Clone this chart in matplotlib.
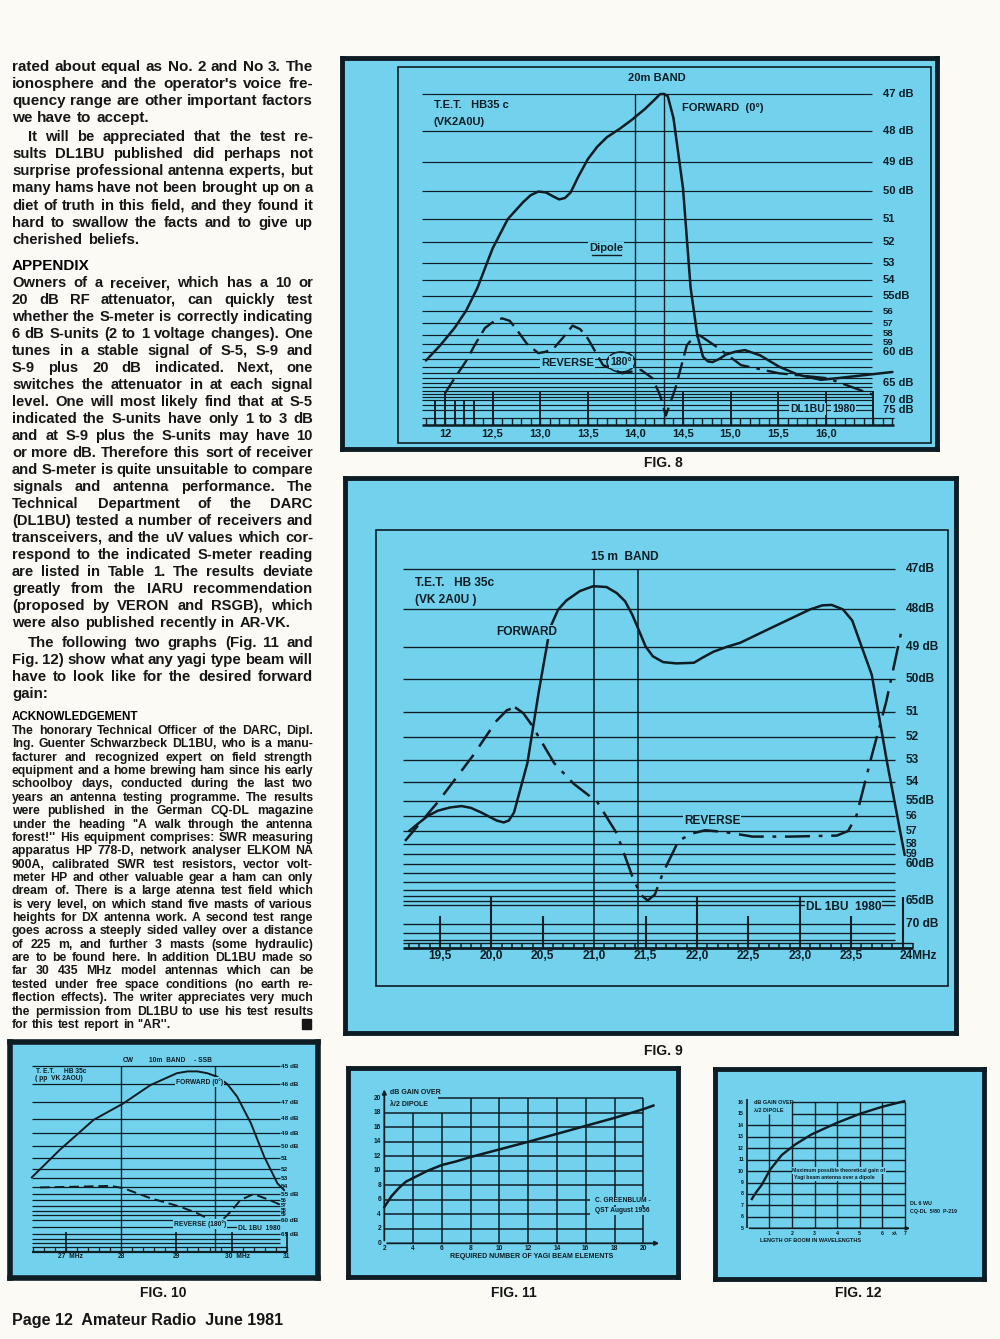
import numpy as np
import matplotlib
matplotlib.use('Agg')
import matplotlib.pyplot as plt
import matplotlib.transforms as mtrans
from matplotlib import font_manager
from matplotlib.patches import Rectangle, Ellipse
from matplotlib.lines import Line2D

W, H = 1000, 1339
PAPER = '#fbfaf5'
CYAN = '#72d2ed'
INK = '#0e1c24'
TXT = '#161616'

_fonts = {f.name for f in font_manager.fontManager.ttflist}
BODY = 'Liberation Sans' if 'Liberation Sans' in _fonts else 'DejaVu Sans'
NARROW = 'Liberation Sans Narrow' if 'Liberation Sans Narrow' in _fonts else BODY
CW_ = 'bold'   # weight of the lettering inside the charts

# ---------------- data : Fig. 8 (20 m band) ----------------
F8_FWD_MHZ = [11.80, 11.95, 12.10, 12.22, 12.34, 12.50, 12.66, 12.82, 12.90, 12.98, 13.06,
              13.14, 13.20, 13.26, 13.32, 13.40, 13.50, 13.60, 13.70, 13.83, 13.96, 14.10,
              14.20, 14.26, 14.30, 14.34, 14.40, 14.50, 14.58, 14.65, 14.71, 14.76, 14.81,
              14.88, 14.95, 15.05, 15.15, 15.31, 15.51, 15.71, 15.95, 16.11, 16.70]
F8_FWD_DB = [61.2, 59.2, 57.4, 56.0, 54.5, 52.3, 51.0, 50.4, 50.15, 50.02, 50.05,
             50.2, 50.3, 50.25, 50.05, 49.5, 48.9, 48.5, 48.2, 47.95, 47.7, 47.4,
             47.15, 46.95, 46.93, 47.05, 47.65, 49.9, 54.5, 58.0, 60.7, 61.3, 61.4,
             61.0, 60.4, 60.0, 59.8, 60.5, 62.0, 63.3, 64.3, 64.0, 62.8]
F8_REV_MHZ = [12.00, 12.10, 12.22, 12.32, 12.42, 12.52, 12.60, 12.68, 12.74, 12.86, 12.98,
              13.06, 13.14, 13.24, 13.34, 13.42, 13.50, 13.66, 13.86, 14.06, 14.18, 14.26,
              14.32, 14.42, 14.54, 14.60, 14.67, 14.83, 15.11, 15.51, 16.02, 16.50]
F8_REV_DB = [67.8, 64.0, 61.3, 59.0, 57.4, 56.8, 56.6, 56.8, 57.4, 59.0, 60.2,
             60.0, 59.6, 58.3, 57.2, 57.5, 58.4, 61.8, 63.0, 62.5, 64.0, 68.5,
             77.0, 66.4, 59.2, 58.4, 58.0, 59.2, 61.8, 63.0, 64.0, 68.3]
F8_GRID = [47, 48, 49, 50, 51, 52, 53, 54, 55, 56, 57, 58, 59, 60, 61, 62, 63, 64, 65,
           66, 67, 68, 69, 70, 72, 75]
F8_DB_AT = [47, 48, 49, 50, 51, 52, 53, 54, 55, 56, 57, 57.85, 58.9, 60, 65, 70, 75]
F8_DB_LABELS = ['47 dB', '48 dB', '49 dB', '50 dB', '51', '52', '53', '54', '55dB', '56',
                '57', '58', '59', '60 dB', '65 dB', '70 dB', '75 dB']
F8_XTICKS = [12.0, 12.5, 13.0, 13.5, 14.0, 14.5, 15.0, 15.5, 16.0]
F8_XLABELS = ['12', '12,5', '13,0', '13,5', '14,0', '14,5', '15,0', '15,5', '16,0']
F8_MAJOR = [12.0, 12.5, 13.0, 13.5, 14.5, 15.0, 15.5, 16.0, 16.5]
F8_MINOR = [11.9, 12.1, 12.2, 12.3]
F8_BAND = [14.0, 14.3]

# ---------------- data : Fig. 9 (15 m band) ----------------
F9_FWD_MHZ = [19.20, 19.27, 19.38, 19.48, 19.60, 19.71, 19.80, 19.90, 20.05, 20.12, 20.17,
              20.22, 20.35, 20.46, 20.57, 20.65, 20.73, 20.86, 20.99, 21.12, 21.22, 21.30,
              21.37, 21.44, 21.50, 21.57, 21.67, 21.80, 21.97, 22.05, 22.16, 22.30, 22.42,
              22.72, 23.10, 23.22, 23.31, 23.42, 23.51, 23.70, 23.85, 24.02]
F9_FWD_DB = [57.0, 56.6, 56.0, 55.64, 55.42, 55.33, 55.45, 55.76, 56.3, 56.43, 56.3,
             55.76, 53.13, 50.4, 48.5, 48.0, 47.78, 47.55, 47.43, 47.45, 47.6, 47.8,
             48.14, 48.6, 49.0, 49.3, 49.48, 49.52, 49.5, 49.35, 49.16, 49.0, 48.9,
             48.5, 48.0, 47.9, 47.89, 48.0, 48.3, 49.87, 53.13, 59.07]
F9_REV_MHZ = [19.16, 19.48, 19.82, 20.05, 20.15, 20.23, 20.31, 20.39, 20.61, 20.80, 21.03,
              21.22, 21.37, 21.45, 21.52, 21.59, 21.67, 21.82, 21.95, 22.08, 22.27, 22.54,
              22.91, 23.36, 23.47, 23.55, 23.70, 23.84, 23.99]
F9_REV_DB = [57.78, 55.05, 52.8, 51.35, 50.95, 50.86, 51.05, 51.5, 53.13, 54.1, 55.05,
             57.2, 61.4, 63.8, 64.9, 63.8, 61.0, 57.78, 57.2, 56.95, 57.08, 57.44,
             57.44, 57.36, 57.0, 56.0, 52.8, 50.7, 48.57]
F9_GRID = [47, 48, 49, 50, 51, 52, 53, 54, 55, 56, 57, 58, 59, 60, 61, 62, 63, 64, 65, 66,
           70, 72, 74]
F9_DB_AT = [47, 48, 49, 50, 51, 52, 53, 54, 55, 56, 57, 58, 59, 60, 65, 70]
F9_DB_LABELS = ['47dB', '48dB', '49 dB', '50dB', '51', '52', '53', '54', '55dB', '56', '57',
                '58', '59', '60dB', '65dB', '70 dB']
F9_XTICKS = [19.5, 20.0, 20.5, 21.0, 21.5, 22.0, 22.5, 23.0, 23.5]
F9_XLABELS = ['19,5', '20,0', '20,5', '21,0', '21,5', '22,0', '22,5', '23,0', '23,5']
F9_WHOLE = [20.0, 22.0, 23.0, 24.0]
F9_HALF = [19.5, 20.5, 21.5, 22.5, 23.5]
F9_BAND = [21.0, 21.43]

# ---------------- data : Fig. 10 (10 m band) ----------------
F10_FWD_MHZ = [26.38, 26.89, 27.50, 28.04, 28.53, 29.01, 29.20, 29.38, 29.56, 29.74, 29.92,
               30.10, 30.35, 30.59, 30.83, 30.95]
F10_FWD_DB = [52.9, 50.3, 48.06, 47.08, 46.06, 45.4, 45.3, 45.3, 45.4, 45.6, 46.0,
              46.7, 48.3, 50.86, 53.6, 54.45]
F10_REV_MHZ = [26.53, 27.19, 27.80, 28.04, 28.53, 29.07, 29.38, 29.62, 29.74, 29.86, 30.00,
               30.16, 30.40, 30.71, 30.92]
F10_REV_DB = [54.1, 54.0, 53.9, 54.2, 55.7, 57.2, 58.6, 60.0, 60.1, 59.7, 58.0,
              56.0, 55.0, 56.1, 57.0]
F10_GRID = [45, 46, 47, 48, 49, 50, 51, 52, 53, 54, 55, 56, 57, 58, 59, 60, 62, 65, 67, 69]
F10_DB_AT = [45, 46, 47, 48, 49, 50, 51, 52, 53, 54, 55, 56, 57, 58, 59, 60, 65]
F10_DB_LABELS = ['45 dB', '46 dB', '47 dB', '48 dB', '49 dB', '50 dB', '51', '52', '53', '54',
                 '55 dB', '56', '57', '58', '59', '60 dB', '65 dB']
F10_XTICKS = [27.08, 28.0, 29.0, 30.1, 31.0]
F10_XLABELS = ['27  MHz', '28', '29', '30  MHz', '31']
F10_TALL = [27.0, 29.0, 30.0, 31.0]
F10_BAND = [28.0, 29.7]

# ---------------- data : Fig. 11 and Fig. 12 ----------------
F11_ELEMENTS = [2, 2.5, 3, 3.5, 4, 5, 6, 7, 8, 10, 12, 14, 16, 18, 20, 20.7]
F11_GAIN = [5.0, 6.5, 7.6, 8.5, 9.0, 10.0, 10.8, 11.3, 11.9, 12.95, 14.0, 15.1, 16.2, 17.3,
            18.5, 19.0]
F11_TICKS = [0, 2, 4, 6, 8, 10, 12, 14, 16, 18, 20]
F12_BOOM = [0.2, 0.4, 0.66, 1.03, 1.55, 2.13, 2.87, 3.98, 5.01, 5.97, 6.97]
F12_GAIN = [7.47, 8.1, 8.78, 10.1, 11.4, 12.3, 13.2, 14.2, 15.0, 15.6, 16.1]
F12_YTICKS = [5, 6, 7, 8, 9, 10, 11, 12, 13, 14, 15, 16]
F12_XTICKS = [1, 2, 3, 4, 5, 6, 7]

# ---------------- text column ----------------
PARA_1 = ["rated about equal as No. 2 and No 3. The",
          "ionosphere and the operator's voice fre-",
          "quency range are other important factors",
          "we have to accept."]
PARA_2 = ["It will be appreciated that the test re-",
          "sults DL1BU published did perhaps not",
          "surprise professional antenna experts, but",
          "many hams have not been brought up on a",
          "diet of truth in this field, and they found it",
          "hard to swallow the facts and to give up",
          "cherished beliefs."]
PARA_3 = ["Owners of a receiver, which has a 10 or",
          "20 dB RF attenuator, can quickly test",
          "whether the S-meter is correctly indicating",
          "6 dB S-units (2 to 1 voltage changes). One",
          "tunes in a stable signal of S-5, S-9 and",
          "S-9 plus 20 dB indicated. Next, one",
          "switches the attenuator in at each signal",
          "level. One will most likely find that at S-5",
          "indicated the S-units have only 1 to 3 dB",
          "and at S-9 plus the S-units may have 10",
          "or more dB. Therefore this sort of receiver",
          "and S-meter is quite unsuitable to compare",
          "signals and antenna performance. The",
          "Technical Department of the DARC",
          "(DL1BU) tested a number of receivers and",
          "transceivers, and the uV values which cor-",
          "respond to the indicated S-meter reading",
          "are listed in Table 1. The results deviate",
          "greatly from the IARU recommendation",
          "(proposed by VERON and RSGB), which",
          "were also published recently in AR-VK."]
PARA_4 = ["The following two graphs (Fig. 11 and",
          "Fig. 12) show what any yagi type beam will",
          "have to look like for the desired forward",
          "gain:"]
ACK = ["The honorary Technical Officer of the DARC, Dipl.",
       "Ing. Guenter Schwarzbeck DL1BU, who is a manu-",
       "facturer and recognized expert on field strength",
       "equipment and a home brewing ham since his early",
       "schoolboy days, conducted during the last two",
       "years an antenna testing programme. The results",
       "were published in the German CQ-DL magazine",
       "under the heading ''A walk through the antenna",
       "forest!'' His equipment comprises: SWR measuring",
       "apparatus HP 778-D, network analyser ELKOM NA",
       "900A, calibrated SWR test resistors, vector volt-",
       "meter HP and other valuable gear a ham can only",
       "dream of. There is a large atenna test field which",
       "is very level, on which stand five masts of various",
       "heights for DX antenna work. A second test range",
       "goes across a steeply sided valley over a distance",
       "of 225 m, and further 3 masts (some hydraulic)",
       "are to be found here. In addition DL1BU made so",
       "far 30 435 MHz model antennas which can be",
       "tested under free space conditions (no earth re-",
       "flection effects). The writer appreciates very much",
       "the permission from DL1BU to use his test results",
       "for this test report in ''AR''."]

# ---------------- figure ----------------
fig = plt.figure(figsize=(W / 100, H / 100), dpi=100, facecolor=PAPER)
renderer = fig.canvas.get_renderer()
X0, X1 = 12, 313


def body_block(lines, y_first, pitch, size, weight='bold', indent=0, sp_em=0.24):
    meas = []
    for line in lines:
        ws = line.split()
        wd = []
        for w in ws:
            t = fig.text(0, 0, w, fontsize=size, family=BODY, fontweight=weight)
            wd.append(t.get_window_extent(renderer).width)
            t.remove()
        meas.append((ws, wd))
    sp = sp_em * size * 100 / 72
    need = 1.0
    for i, (ws, wd) in enumerate(meas):
        left = indent if i == 0 else 0
        need = max(need, (sum(wd) + sp * (len(ws) - 1)) / (X1 - X0 - left))
    k = 1.0 / need
    for i, (ws, wd) in enumerate(meas):
        wd = [v * k for v in wd]
        left = X0 + (indent if i == 0 else 0)
        if i == len(meas) - 1 or len(ws) == 1:
            gap = sp * k * 1.3
        else:
            gap = (X1 - left - sum(wd)) / (len(ws) - 1)
        x = left
        y = y_first + i * pitch
        for w, v in zip(ws, wd):
            fig.text(x / W, 1 - y / H, w, fontsize=size * k, family=BODY,
                     fontweight=weight, color=TXT, va='baseline')
            x += v + gap


body_block(PARA_1, 71, 17.0, 11.0)
body_block(PARA_2, 141, 17.15, 11.0, indent=16)
fig.text(X0 / W, 1 - 270 / H, 'APPENDIX', fontsize=11, family=BODY, fontweight='heavy',
         color='#000000', va='baseline')
body_block(PARA_3, 287, 17.0, 11.0)
body_block(PARA_4, 647, 17.0, 11.0, indent=16)
fig.text(X0 / W, 1 - 720 / H, 'ACKNOWLEDGEMENT', fontsize=8.4, family=BODY, fontweight='heavy',
         color='#000000', va='baseline')
body_block(ACK, 734, 13.36, 8.8)
fig.add_artist(Rectangle((302 / W, 1 - 1029 / H), 9 / W, 10 / H, transform=fig.transFigure,
                         color=TXT))

fig.text(X0 / W, 1 - 1320 / H, 'Page 12  Amateur Radio  June 1981', fontsize=11.6,
         family=BODY, fontweight='bold', color=TXT, va='center')
caps = [((663, 463), 'FIG. 8'), ((663, 1051), 'FIG. 9'), ((163, 1293), 'FIG. 10'),
        ((514, 1293), 'FIG. 11'), ((858, 1293), 'FIG. 12')]
for (cx, cy), cap in caps:
    fig.text(cx / W, 1 - cy / H, cap, fontsize=10, family=BODY, fontweight='bold',
             color=TXT, ha='center', va='center')


# ---------------- chart helpers ----------------
def panel(x0, y0, x1, y1, lw=3.5):
    ax = fig.add_axes([x0 / W, 1 - y1 / H, (x1 - x0) / W, (y1 - y0) / H])
    ax.set_facecolor(CYAN)
    for s in ax.spines.values():
        s.set_linewidth(lw)
        s.set_color(INK)
    ax._px = (x0, y0, x1, y1)
    return ax


def xmap(ax, ref, ref_px, ppu):
    x0, _, x1, _ = ax._px
    ax.set_xlim(ref + (x0 - ref_px) / ppu, ref + (x1 - ref_px) / ppu)


def ymap(ax, ref, ref_px, ppu):
    _, y0, _, y1 = ax._px
    ax.set_ylim(ref - (y1 - ref_px) / ppu, ref + (ref_px - y0) / ppu)


def level_scale(ax, db_pts, px_pts):
    db_pts = np.asarray(db_pts, float)
    px_pts = np.asarray(px_pts, float)
    ax.set_yscale('function', functions=(lambda d: np.interp(d, db_pts, px_pts),
                                         lambda p: np.interp(p, px_pts, db_pts)))
    ax.set_ylim(db_pts[-1], db_pts[0])


def clean(ax):
    ax.set_xticks([])
    ax.set_yticks([])
    ax.minorticks_off()


def xd_yp(ax):
    return mtrans.blended_transform_factory(ax.transData, fig.transFigure)


def xp_yd(ax):
    return mtrans.blended_transform_factory(fig.transFigure, ax.transData)


def ptext(x, y, s, size, **kw):
    kw.setdefault('family', NARROW)
    kw.setdefault('color', INK)
    kw.setdefault('va', 'center')
    kw.setdefault('fontweight', CW_)
    return fig.text(x / W, 1 - y / H, s, fontsize=size, **kw)


def frame(x0, y0, x1, y1, lw=1.2):
    fig.add_artist(Rectangle((x0 / W, 1 - y1 / H), (x1 - x0) / W, (y1 - y0) / H,
                             transform=fig.transFigure, fill=False, ec=INK, lw=lw))


MASK = dict(facecolor=CYAN, edgecolor='none', pad=0.6)
CURVE = dict(color=INK, lw=1.8, solid_joinstyle='round', solid_capstyle='round')
LAB = dict(family=NARROW, color=INK, fontweight=CW_)

# ---------------- Fig. 8 ----------------
ax8 = panel(342, 58, 937, 449)
xmap(ax8, 12.0, 445, 95.2)
level_scale(ax8,
            [40, 47, 48, 49, 50, 51, 52, 53, 54, 55, 56, 57, 58, 59, 60, 61, 62, 63, 64, 65, 66,
             67, 68, 69, 70, 72, 75, 78, 80, 90],
            [58, 94.3, 131, 162.3, 191, 219, 242.3, 262.7, 280.3, 295.7, 311, 323.3, 335,
             343.7, 351.7, 359, 366.7, 373.3, 378.3, 383.3, 387, 390.5, 394, 397, 400, 404.5,
             410, 418.3, 425, 449])
clean(ax8)
frame(398, 67, 931, 443)
ax8.hlines(F8_GRID, 11.76, 16.49, color=INK, lw=0.85)
ax8.vlines(F8_BAND, 47, 80, color=INK, lw=1.0)
ax8.hlines(78, 11.76, 16.72, color=INK, lw=0.9)
ax8.hlines(80, 11.76, 16.72, color=INK, lw=1.8)
ax8.vlines(np.arange(11.8, 16.75, 0.1), 78, 80, color=INK, lw=1.0)
ax8.vlines(F8_MAJOR, 67, 80, color=INK, lw=1.4)
ax8.vlines(F8_MINOR, 70.5, 80, color=INK, lw=1.4)
ax8.plot(F8_FWD_MHZ, F8_FWD_DB, **CURVE)
m8 = np.array(F8_REV_MHZ)
d8 = np.array(F8_REV_DB)
sel = m8 <= 14.67
ax8.plot(m8[sel], d8[sel], color=INK, lw=1.7, dashes=(7, 3))
sel = m8 >= 14.67
ax8.plot(m8[sel], d8[sel], color=INK, lw=1.7, dashes=(9, 3, 1.5, 3))
for db, lab in zip(F8_DB_AT, F8_DB_LABELS):
    ax8.text(883 / W, db, lab, transform=xp_yd(ax8), ha='left', va='center',
             fontsize=6.8 if 56 <= db < 60 else 8, **LAB)
for v, lab in zip(F8_XTICKS, F8_XLABELS):
    ax8.text(v, 1 - 434 / H, lab, transform=xd_yp(ax8), ha='center', va='center',
             fontsize=8, **LAB)
ptext(657, 78, '20m BAND', 8, ha='center')
ptext(434, 105, 'T.E.T.   HB35 c', 8)
ptext(434, 122, '(VK2A0U)', 8)
ptext(682, 108, 'FORWARD  (0°)', 8)
ptext(606, 248, 'Dipole', 8, ha='center', bbox=MASK)
fig.add_artist(Line2D([592 / W, 621 / W], [1 - 255 / H, 1 - 255 / H], color=INK, lw=1.0))
ptext(594, 363, 'REVERSE', 8, ha='right', bbox=MASK)
ptext(621, 362, '180°', 7.5, ha='center', bbox=MASK)
fig.add_artist(Ellipse((621 / W, 1 - 362 / H), 28 / W, 20 / H, transform=fig.transFigure,
                       fill=False, ec=INK, lw=1.1))
ptext(790, 409, 'DL1BU', 7.5, bbox=MASK)
ptext(832, 409, '1980', 7.5, bbox=MASK)

# ---------------- Fig. 9 ----------------
ax9 = panel(345, 478, 956, 1033)
xmap(ax9, 19.5, 440, 102.8)
level_scale(ax9,
            [40, 47, 48, 49, 50, 51, 52, 53, 54, 55, 56, 57, 58, 59, 60, 61, 62, 63, 64, 65, 66,
             70, 72, 74, 76, 78, 90],
            [478, 568.7, 609.4, 646.5, 679, 711.9, 737.3, 760.3, 781.8, 801.2, 816, 831,
             843.7, 854.3, 863.8, 872.6, 881.5, 890.3, 895.6, 901, 905, 923.8, 932.7, 939.8,
             943.3, 948, 1033])
clean(ax9)
frame(376, 530, 948, 986)
ax9.hlines(F9_GRID, 19.14, 23.93, color=INK, lw=0.95)
ax9.vlines(F9_BAND, 47, 78, color=INK, lw=1.1)
ax9.hlines(76, 19.14, 24.1, color=INK, lw=1.0)
ax9.hlines(78, 19.14, 24.1, color=INK, lw=2.0)
ax9.vlines(np.arange(19.2, 24.1, 0.1), 76, 78, color=INK, lw=1.1)
ax9.vlines(F9_WHOLE, 64.3, 78, color=INK, lw=1.5)
ax9.vlines(F9_HALF, 68.3, 78, color=INK, lw=1.5)
ax9.plot(F9_FWD_MHZ, F9_FWD_DB, **CURVE)
m9 = np.array(F9_REV_MHZ)
d9 = np.array(F9_REV_DB)
sel = m9 <= 20.25
ax9.plot(m9[sel], d9[sel], color=INK, lw=1.8, dashes=(8, 4))
sel = m9 >= 20.23
ax9.plot(m9[sel], d9[sel], color=INK, lw=1.8, dashes=(10, 3.5, 1.5, 3.5))
for db, lab in zip(F9_DB_AT, F9_DB_LABELS):
    ax9.text(906 / W, db, lab, transform=xp_yd(ax9), ha='left', va='center',
             fontsize=7.6 if 56 <= db < 60 else 8.6, **LAB)
for v, lab in zip(F9_XTICKS, F9_XLABELS):
    ax9.text(v, 1 - 956 / H, lab, transform=xd_yp(ax9), ha='center', va='center',
             fontsize=8.6, **LAB)
ax9.text(23.97, 1 - 956 / H, '24MHz', transform=xd_yp(ax9), ha='left', va='center',
         fontsize=8.6, **LAB)
ptext(625, 557, '15 m  BAND', 8.6, ha='center')
ptext(415, 583, 'T.E.T.   HB 35c', 8.6)
ptext(415, 600, '(VK 2A0U )', 8.6)
ptext(496, 632, 'FORWARD', 8.6, bbox=MASK)
ptext(684, 821, 'REVERSE', 8.6, bbox=MASK)
ptext(806, 907, 'DL 1BU  1980', 8.6, bbox=MASK)

# ---------------- Fig. 10 ----------------
ax10 = panel(10, 1042, 318, 1278, lw=4)
xmap(ax10, 27.0, 66, 55.2)
level_scale(ax10,
            [35, 45, 46, 47, 48, 49, 50, 51, 52, 53, 54, 55, 56, 57, 58, 59, 60, 62, 65, 67,
             69, 71, 73, 80],
            [1042, 1066, 1084, 1102, 1119, 1133.3, 1146, 1158.3, 1169.3, 1178.3, 1186.7,
             1194, 1200, 1205.7, 1210.7, 1215, 1220, 1227.3, 1234, 1239.3, 1243.3, 1246.7,
             1251.7, 1278])
clean(ax10)
ax10.hlines(F10_GRID, 26.38, 30.88, color=INK, lw=0.9)
ax10.vlines(F10_BAND, 45, 73, color=INK, lw=1.0)
ax10.hlines(71, 26.38, 31.0, color=INK, lw=0.9)
ax10.hlines(73, 26.38, 31.0, color=INK, lw=1.6)
ax10.vlines(np.arange(26.4, 31.0, 0.2), 71, 73, color=INK, lw=0.9)
ax10.vlines(F10_TALL, 64.0, 73, color=INK, lw=1.2)
ax10.plot(F10_FWD_MHZ, F10_FWD_DB, color=INK, lw=1.4)
ax10.plot(F10_REV_MHZ, F10_REV_DB, color=INK, lw=1.4, dashes=(5, 2.5))
for db, lab in zip(F10_DB_AT, F10_DB_LABELS):
    ax10.text(281 / W, db, lab, transform=xp_yd(ax10), ha='left', va='center',
              fontsize=3.8 if 56 <= db < 60 else 4.6, **LAB)
for v, lab in zip(F10_XTICKS, F10_XLABELS):
    ax10.text(v, 1 - 1256 / H, lab, transform=xd_yp(ax10), ha='center', va='center',
              fontsize=4.8, **LAB)
ptext(128, 1060, 'CW', 4.8, ha='center')
ptext(167, 1060, '10m  BAND', 4.8, ha='center')
ptext(203, 1060, '- SSB', 4.8, ha='center')
ptext(36, 1071.5, 'T. E.T.     HB 35c', 4.8)
ptext(35, 1078.5, '( pp  VK 2AOU)', 4.8)
ptext(176, 1082, 'FORWARD (0°)', 4.8, bbox=MASK)
ptext(174, 1224, 'REVERSE (180°)', 4.8, bbox=MASK)
ptext(238, 1228, 'DL 1BU  1980', 4.8, bbox=MASK)

# ---------------- Fig. 11 ----------------
ax11 = panel(348, 1068, 678, 1277, lw=3.5)
xmap(ax11, 2.0, 384.3, 14.39)
ymap(ax11, 0.0, 1243.3, 7.25)
clean(ax11)
ax11.hlines([2, 8, 10, 12, 14, 16, 18], 2, 20, color=INK, lw=1.1)
ax11.hlines([4, 6], 2, 16.3, color=INK, lw=1.1)
ax11.hlines(20, 5.7, 20, color=INK, lw=1.1)
ax11.vlines([4, 6], 0, 18, color=INK, lw=1.1)
ax11.vlines([8, 10, 12, 14, 16, 18, 20], 0, 20, color=INK, lw=1.1)
ax11.annotate('', xy=(21.3, 0), xytext=(2, 0),
              arrowprops=dict(arrowstyle='-|>', color=INK, lw=1.3, mutation_scale=6))
ax11.annotate('', xy=(2, 21.6), xytext=(2, 0),
              arrowprops=dict(arrowstyle='-|>', color=INK, lw=1.3, mutation_scale=6))
ax11.plot(F11_ELEMENTS, F11_GAIN, color=INK, lw=1.8)
for v in F11_TICKS:
    ax11.text(381 / W, v, str(v), transform=xp_yd(ax11), ha='right', va='center',
              fontsize=4.8, **LAB)
for v in F11_TICKS[1:]:
    ax11.text(v, 1 - 1248.5 / H, str(v), transform=xd_yp(ax11), ha='center', va='center',
              fontsize=4.8, **LAB)
ptext(532, 1256.5, 'REQUIRED NUMBER OF YAGI BEAM ELEMENTS', 5.0, ha='center')
ptext(390, 1093, 'dB GAIN OVER', 5.0)
ptext(390, 1105, 'λ/2 DIPOLE', 5.0)
ptext(595, 1201, 'C. GREENBLUM -', 4.8, bbox=MASK)
ptext(595, 1211, 'QST August 1956', 4.8, bbox=MASK)

# ---------------- Fig. 12 ----------------
ax12 = panel(715, 1069, 984, 1279, lw=3.5)
xmap(ax12, 0.0, 746.7, 22.6)
ymap(ax12, 5.0, 1228.3, 11.45)
clean(ax12)
ax12.hlines([6, 7, 8, 9, 10, 11, 12, 13, 14], 0, 7, color=INK, lw=1.0)
ax12.hlines([15, 16], 2, 7, color=INK, lw=1.0)
ax12.vlines(1, 5, 15, color=INK, lw=1.0)
ax12.vlines([2, 3, 4, 5, 6, 7], 5, 16, color=INK, lw=1.0)
ax12.annotate('', xy=(7.35, 5), xytext=(0, 5),
              arrowprops=dict(arrowstyle='-|>', color=INK, lw=1.2, mutation_scale=5))
ax12.vlines(0, 5, 16.3, color=INK, lw=1.2)
b12 = np.array(F12_BOOM)
g12 = np.array(F12_GAIN)
ax12.plot(b12[:2], g12[:2], color=INK, lw=1.7, dashes=(3, 2))
ax12.plot(b12[1:], g12[1:], color=INK, lw=1.7)
for v in F12_YTICKS:
    ax12.text(744 / W, v, str(v), transform=xp_yd(ax12), ha='right', va='center',
              fontsize=3.8, **LAB)
for v in F12_XTICKS:
    ax12.text(v, 1 - 1233.5 / H, str(v), transform=xd_yp(ax12), ha='center', va='center',
              fontsize=3.8, **LAB)
ptext(895, 1233.5, 'xλ', 3.8, ha='center')
ptext(811, 1240.5, 'LENGTH OF BOOM IN WAVELENGTHS', 4.0, ha='center')
ptext(754, 1102.5, 'dB GAIN OVER', 4.0)
ptext(754, 1111, 'λ/2 DIPOLE', 4.0)
ptext(839, 1170.5, 'Maximum possible theoretical gain of', 3.7, ha='center', bbox=MASK)
ptext(834, 1177.5, 'Yagi beam antenna over a dipole', 3.7, ha='center', bbox=MASK)
ptext(910, 1203.5, 'DL 6 WU', 3.8)
ptext(910, 1211, 'CQ-DL  5/80  P-219', 3.8)

fig.savefig('out.png', dpi=100, facecolor=PAPER)
